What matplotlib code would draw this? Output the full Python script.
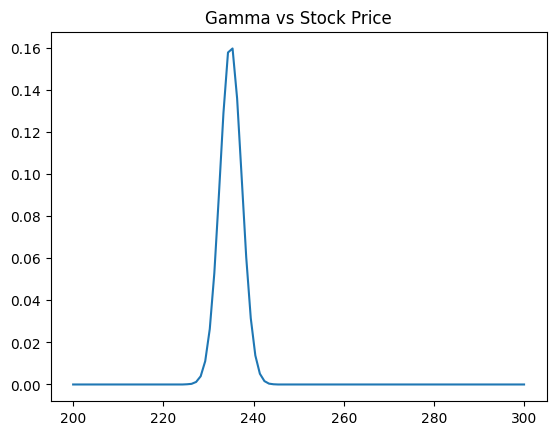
import numpy as np
import matplotlib
matplotlib.use("Agg")
import matplotlib.pyplot as plt

# Stock price grid (100 evenly spaced prices from 200 to 300)
stock_prices = np.linspace(200, 300, 100)

# Gamma values (index 0..99); nonzero region around the peak
gamma_peak_start = 23
gamma_peak_values = [
    0.0000, 0.0000, 0.0001, 0.0003, 0.0012, 0.0039, 0.0111, 0.0264,
    0.0530, 0.0900, 0.1290, 0.1578, 0.1597, 0.1360, 0.0985, 0.0605,
    0.0315, 0.0138, 0.0051, 0.0016, 0.0004, 0.0001, 0.0000,
]

gamma = np.zeros(len(stock_prices))
gamma[gamma_peak_start:gamma_peak_start + len(gamma_peak_values)] = gamma_peak_values

fig, ax = plt.subplots(figsize=(6.4, 4.8), dpi=100)
ax.plot(stock_prices, gamma)
ax.set_title("Gamma vs Stock Price")
fig.savefig("out.png", bbox_inches="tight")
